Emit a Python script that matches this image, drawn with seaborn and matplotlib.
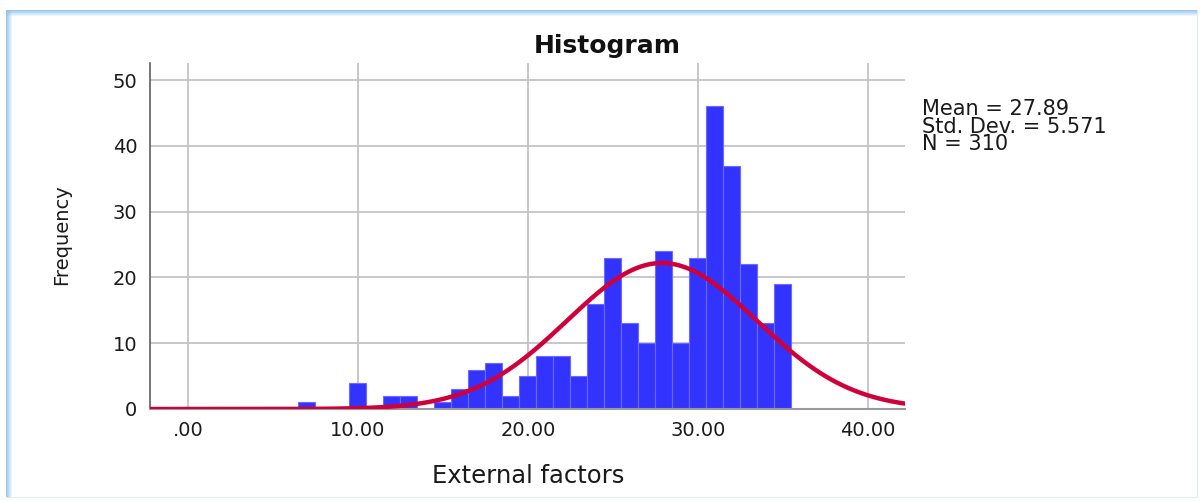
import numpy as np
import pandas as pd
import matplotlib
matplotlib.use("Agg")
import matplotlib.pyplot as plt
from matplotlib.patches import Rectangle
import seaborn as sns

# Score values (bin centres) and their frequencies
scores = [7, 10, 12, 13, 15, 16, 17, 18, 19, 20, 21, 22, 23, 24, 25,
          26, 27, 28, 29, 30, 31, 32, 33, 34, 35]
counts = [1, 4, 2, 2, 1, 3, 6, 7, 2, 5, 8, 8, 5, 16, 23,
          13, 10, 24, 10, 23, 46, 37, 22, 13, 19]

# Summary statistics shown beside the plot
MEAN = 27.89
STD = 5.571
N = 310

x_ticks = [0, 10, 20, 30, 40]
x_tick_labels = [".00", "10.00", "20.00", "30.00", "40.00"]
y_ticks = [0, 10, 20, 30, 40, 50]

sns.set_style("white")
plt.rcParams["font.family"] = ["DejaVu Sans"]

W, H = 1203, 501
fig = plt.figure(figsize=(W / 100, H / 100), dpi=100)
fig.patch.set_facecolor("white")


def fx(px):
    return px / W


def fy(py):
    return 1 - py / H


# Panel frame: soft blue border, strongest on top and left
for i in range(6):
    a = 0.85 - i * 0.14
    col = (0.55, 0.75, 0.92, max(a, 0))
    fig.add_artist(Rectangle((fx(6), fy(10 + i + 1)), fx(1197 - 6), 1 / H,
                             transform=fig.transFigure, color=col, lw=0))
    fig.add_artist(Rectangle((fx(6 + i), fy(498)), 1 / W, fy(10) - fy(498),
                             transform=fig.transFigure, color=col, lw=0))
fig.add_artist(Rectangle((fx(1197), fy(498)), 1 / W, fy(10) - fy(498),
                         transform=fig.transFigure, color=(0.85, 0.92, 0.98), lw=0))
fig.add_artist(Rectangle((fx(6), fy(498)), fx(1197 - 6), 1 / H,
                         transform=fig.transFigure, color=(0.88, 0.93, 0.98), lw=0))

ax = fig.add_axes([fx(150), fy(409), fx(905 - 150), fy(63) - fy(409)])
ax.set_facecolor("white")

df = pd.DataFrame({"score": scores, "count": counts})
sns.histplot(data=df, x="score", weights="count", discrete=True, ax=ax,
             color="#3333ff", edgecolor="#6a6aff", linewidth=0.8, alpha=1.0,
             zorder=2)

# Fitted normal curve scaled to counts (bin width 1)
xs = np.linspace(-2.24, 42.2, 400)
ys = N * 1.0 / (STD * np.sqrt(2 * np.pi)) * np.exp(-0.5 * ((xs - MEAN) / STD) ** 2)
sns.lineplot(x=xs, y=ys, ax=ax, color="#d0003a", linewidth=3.2, zorder=3)

ax.set_xlim(-2.24, 42.2)
ax.set_ylim(0, 52.6)
ax.set_xticks(x_ticks)
ax.set_xticklabels(x_tick_labels)
ax.set_yticks(y_ticks)
ax.set_xlabel("")
ax.set_ylabel("")

ax.grid(True, color="#c4c4c4", linewidth=1.3, zorder=0)
ax.set_axisbelow(True)
for s in ["top", "right"]:
    ax.spines[s].set_visible(False)
ax.spines["left"].set_color("#606060")
ax.spines["left"].set_linewidth(1.2)
ax.spines["bottom"].set_color("#9a9a9a")
ax.spines["bottom"].set_linewidth(1.5)
ax.tick_params(axis="both", length=0, labelsize=14, colors="#1a1a1a")
ax.tick_params(axis="x", pad=9)
ax.tick_params(axis="y", pad=9)

fig.text(fx(607), fy(53), "Histogram", ha="center", va="baseline",
         fontsize=18, fontweight="bold", color="#111111")
fig.text(fx(528), fy(483), "External factors", ha="center", va="baseline",
         fontsize=17.5, color="#1a1a1a")
fig.text(fx(62), fy(235), "Frequency", ha="center", va="center",
         rotation=90, fontsize=14, color="#1a1a1a")

stats_lines = [f"Mean = {MEAN:.2f}", f"Std. Dev. = {STD:.3f}", f"N = {N}"]
for line, base in zip(stats_lines, [115, 132.7, 150.3]):
    fig.text(fx(922), fy(base), line, ha="left", va="baseline",
             fontsize=15, color="#1a1a1a")

fig.savefig("out.png", dpi=100, facecolor="white")
